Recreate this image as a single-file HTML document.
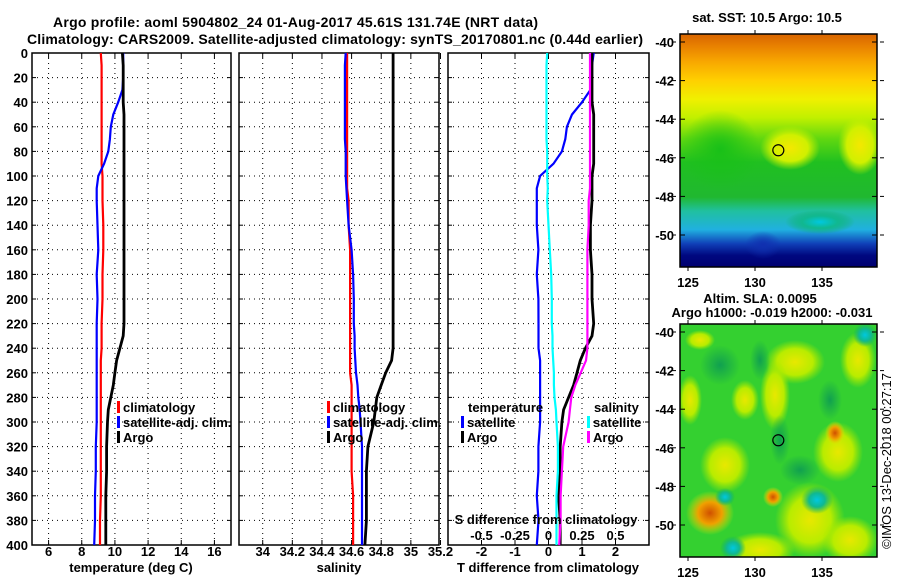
<!DOCTYPE html>
<html><head><meta charset="utf-8"><style>
html,body{margin:0;padding:0;background:#fff;}
svg{display:block;font-family:"Liberation Sans",Arial,sans-serif;font-weight:bold;}
</style></head><body>
<svg id="chart" width="900" height="580" viewBox="0 0 900 580" xmlns="http://www.w3.org/2000/svg">
<defs>
<linearGradient id="sstGrad" x1="0" y1="0" x2="0" y2="1">
<stop offset="0" stop-color="#d86400"/><stop offset="0.05" stop-color="#e88000"/><stop offset="0.12" stop-color="#f8a800"/>
<stop offset="0.2" stop-color="#ffd000"/><stop offset="0.28" stop-color="#f0f000"/><stop offset="0.36" stop-color="#c0f000"/>
<stop offset="0.45" stop-color="#60d810"/><stop offset="0.55" stop-color="#20c020"/><stop offset="0.7" stop-color="#20b830"/>
<stop offset="0.76" stop-color="#20c0a0"/><stop offset="0.84" stop-color="#20b0e0"/><stop offset="0.9" stop-color="#1040b8"/>
<stop offset="0.95" stop-color="#000880"/><stop offset="1" stop-color="#000070"/>
</linearGradient>
<radialGradient id="blobOrange"><stop offset="0" stop-color="#d05000"/><stop offset="0.5" stop-color="#f0a000"/><stop offset="1" stop-color="#e0e800" stop-opacity="0"/></radialGradient>
<radialGradient id="blobYellow"><stop offset="0" stop-color="#e8e800"/><stop offset="0.6" stop-color="#b8ec00"/><stop offset="1" stop-color="#a0e800" stop-opacity="0"/></radialGradient>
<radialGradient id="blobSstYellow"><stop offset="0" stop-color="#f4e800"/><stop offset="0.6" stop-color="#d0f000"/><stop offset="1" stop-color="#c0f000" stop-opacity="0"/></radialGradient>
<radialGradient id="blobBlue"><stop offset="0" stop-color="#00c8e0"/><stop offset="0.5" stop-color="#10b890"/><stop offset="1" stop-color="#10b060" stop-opacity="0"/></radialGradient>
<radialGradient id="blobDark"><stop offset="0" stop-color="#10a050"/><stop offset="1" stop-color="#10a050" stop-opacity="0"/></radialGradient>
<radialGradient id="blobGreen"><stop offset="0" stop-color="#18c018"/><stop offset="1" stop-color="#18c018" stop-opacity="0"/></radialGradient>
<radialGradient id="blobNavy"><stop offset="0" stop-color="#1030b0"/><stop offset="1" stop-color="#1030b0" stop-opacity="0"/></radialGradient>
<clipPath id="clipTop"><rect x="680" y="34" width="197" height="233"/></clipPath>
<clipPath id="clipBot"><rect x="680" y="324" width="197" height="233"/></clipPath>
</defs>
<text x="53" y="27" font-size="14" textLength="485">Argo profile: aoml 5904802_24 01-Aug-2017 45.61S 131.74E (NRT data)</text>
<text x="27" y="44" font-size="14" textLength="616">Climatology: CARS2009. Satellite-adjusted climatology: synTS_20170801.nc (0.44d earlier)</text>
<g id="panels"></g>
<g id="maps"></g>
</svg>
<script>
const depths=[0,10,20,30,40,50,60,70,80,90,100,110,120,140,160,180,200,220,230,240,250,260,270,280,290,300,320,340,360,380,400];
const tClim=[9.15,9.2,9.2,9.2,9.2,9.2,9.2,9.2,9.2,9.2,9.25,9.25,9.25,9.3,9.3,9.25,9.25,9.2,9.2,9.2,9.15,9.15,9.15,9.15,9.15,9.15,9.15,9.15,9.15,9.1,9.1];
const tSat=[10.5,10.5,10.5,10.45,10.2,9.9,9.75,9.7,9.6,9.35,9.0,8.9,8.9,8.95,9.0,8.9,8.95,8.9,8.9,8.9,8.9,8.9,8.9,8.9,8.9,8.9,8.85,8.85,8.8,8.8,8.75];
const tArgo=[10.45,10.5,10.5,10.5,10.5,10.55,10.55,10.55,10.55,10.55,10.55,10.55,10.55,10.55,10.55,10.55,10.55,10.55,10.5,10.3,10.1,10.0,9.9,9.75,9.6,9.55,9.5,9.5,9.45,9.45,9.45];
const sClim=[34.57,34.57,34.57,34.57,34.57,34.57,34.57,34.57,34.57,34.57,34.57,34.57,34.58,34.58,34.59,34.59,34.59,34.59,34.59,34.59,34.59,34.59,34.6,34.6,34.6,34.6,34.6,34.6,34.61,34.61,34.61];
const sSat=[34.56,34.555,34.555,34.555,34.555,34.555,34.555,34.555,34.56,34.56,34.56,34.565,34.57,34.58,34.6,34.61,34.615,34.615,34.62,34.62,34.625,34.63,34.64,34.645,34.655,34.66,34.67,34.67,34.67,34.67,34.67];
const sArgo=[34.88,34.88,34.88,34.88,34.88,34.88,34.88,34.88,34.88,34.88,34.88,34.88,34.88,34.88,34.88,34.88,34.88,34.88,34.88,34.88,34.87,34.83,34.8,34.77,34.76,34.75,34.71,34.7,34.7,34.7,34.69];
const depthTicks=[0,20,40,60,80,100,120,140,160,180,200,220,240,260,280,300,320,340,360,380,400];
const tTicks=[6,8,10,12,14,16];
const sTicks=[34,34.2,34.4,34.6,34.8,35,35.2];
const dTicks=[-2,-1,0,1,2];
const sdTicks=[-0.5,-0.25,0,0.25,0.5];
const sdLabels=["-0.5","-0.25","0","0.25","0.5"];
const latTicks=[-40,-42,-44,-46,-48,-50];
const lonTicks=[125,130,135];

const NS="http://www.w3.org/2000/svg";
function mk(tag,attrs,parent){const e=document.createElementNS(NS,tag);for(const k in attrs)e.setAttribute(k,attrs[k]);parent.appendChild(e);return e;}
const panelsG=document.getElementById('panels');
const Y0=53,Y1=545;
function yD(d){return Y0+(d/400)*(Y1-Y0);}
function makePanel(x0,x1,vmin,vmax,name){
  const g=mk('g',{},panelsG);
  
  
  const sx=v=>x0+(v-vmin)/(vmax-vmin)*(x1-x0);
  return {g,sx,x0,x1};
}
function frame(p,xt,labels,showY,labelY){
  const g=p.g;
  depthTicks.forEach(d=>{const y=yD(d);
    if(d>0&&d<400){const l=mk('line',{x1:p.x0,x2:p.x1,y1:y,y2:y,stroke:'#000','stroke-dasharray':'1,4','stroke-width':1},g);
    
    }
    mk('line',{x1:p.x0,x2:p.x0+4,y1:y,y2:y,stroke:'#000'},g);mk('line',{x1:p.x1,x2:p.x1-4,y1:y,y2:y,stroke:'#000'},g);
    if(showY){const t=mk('text',{x:28,y:y+5,'font-size':13,'text-anchor':'end'},g);t.textContent=d;
    
    }
  });
  xt.forEach((v,i)=>{const x=p.sx(v);
    const l=mk('line',{x1:x,x2:x,y1:Y0,y2:Y1,stroke:'#000','stroke-dasharray':'1,4'},g);
    
    
    mk('line',{x1:x,x2:x,y1:Y0,y2:Y0+5,stroke:'#000'},g);mk('line',{x1:x,x2:x,y1:Y1,y2:Y1-5,stroke:'#000'},g);
    if(labels){const t=mk('text',{x:x,y:labelY,'font-size':13,'text-anchor':'middle'},g);t.textContent=labels[i];
    
    }
  });
  const r=mk('rect',{x:p.x0,y:Y0,width:p.x1-p.x0,height:Y1-Y0,fill:'none',stroke:'#000','stroke-width':1.5},g);
  
  
}
function line(p,vals,color,name,w){
  const pts=vals.map((v,i)=>p.sx(v).toFixed(1)+','+yD(depths[i]).toFixed(1)).join(' ');
  const pl=mk('polyline',{points:pts,fill:'none',stroke:color,'stroke-width':w||2.2},p.g);
  
  
}
function txt(g,x,y,s,name,anchor,size){const t=mk('text',{x:x,y:y,'font-size':size||13,'text-anchor':anchor||'start'},g);t.textContent=s;
  
  return t;}
function legendEntry(g,x,y,color,label){
  const r=mk('rect',{x:x,y:y-11,width:3,height:12,fill:color},g);
  
  
  txt(g,x+6,y,label,'legend-entry');
}
const LY=556, TY=572;
// Panel 1 temperature
const p1=makePanel(32,231,5,17,'temperature-panel');
frame(p1,tTicks,tTicks.map(String),true,LY);
line(p1,tClim,'#ff0000','temperature-climatology-line');
line(p1,tSat,'#0000ff','temperature-satellite-line');
line(p1,tArgo,'#000000','temperature-argo-line',2.8);
txt(p1.g,131,TY,'temperature (deg C)','x-axis-title','middle');
legendEntry(p1.g,117,412,'#ff0000','climatology');
legendEntry(p1.g,117,427,'#0000ff','satellite-adj. clim.');
legendEntry(p1.g,117,442,'#000000','Argo');
// Panel 2 salinity
const p2=makePanel(239,439,33.84,35.19,'salinity-panel');
frame(p2,sTicks,sTicks.map(String),false,LY);
line(p2,sClim,'#ff0000','salinity-climatology-line');
line(p2,sSat,'#0000ff','salinity-satellite-line');
line(p2,sArgo,'#000000','salinity-argo-line',2.8);
txt(p2.g,339,TY,'salinity','x-axis-title','middle');
legendEntry(p2.g,327,412,'#ff0000','climatology');
legendEntry(p2.g,327,427,'#0000ff','satellite-adj. clim.');
legendEntry(p2.g,327,442,'#000000','Argo');
// Panel 3 differences
const p3=makePanel(448,649,-3,3,'difference-panel');
frame(p3,dTicks,dTicks.map(String),false,LY);
const sScale=v=>v*4; // S diff axis: 0.25 per T unit
line(p3,tSat.map((v,i)=>v-tClim[i]),'#0000ff','t-diff-satellite-line');
line(p3,tArgo.map((v,i)=>v-tClim[i]),'#000000','t-diff-argo-line',2.8);
line(p3,sSat.map((v,i)=>sScale(v-sClim[i])),'#00ffff','s-diff-satellite-line');
line(p3,sArgo.map((v,i)=>sScale(v-sClim[i])),'#ff00ff','s-diff-argo-line');
txt(p3.g,548,TY,'T difference from climatology','x-axis-title','middle');
txt(p3.g,546,524,'S difference from climatology','s-axis-title','middle');
sdTicks.forEach((v,i)=>txt(p3.g,p3.sx(sScale(v)),540,sdLabels[i],'s-tick-label','middle'));
txt(p3.g,468,412,'temperature','legend-title');
legendEntry(p3.g,461,427,'#0000ff','satellite');
legendEntry(p3.g,461,442,'#000000','Argo');
txt(p3.g,594,412,'salinity','legend-title');
legendEntry(p3.g,587,427,'#00ffff','satellite');
legendEntry(p3.g,587,442,'#ff00ff','Argo');

// Maps
const mapsG=document.getElementById('maps');
function mapAxes(g,y0,y1,latTop){
  const sy=lat=>latTop+(-40-lat)*19.3;
  const sx=lon=>688+(lon-125)*13.4;
  latTicks.forEach(l=>{const y=sy(l);mk('line',{x1:680,x2:685,y1:y,y2:y,stroke:'#000'},g);mk('line',{x1:877,x2:872,y1:y,y2:y,stroke:'#000'},g);
    mk('line',{x1:672,x2:676,y1:y,y2:y,stroke:'#000'},g);mk('line',{x1:880,x2:884,y1:y,y2:y,stroke:'#000'},g);
    txt(g,674,y+5,String(l),'latitude-tick-label','end',13);});
  lonTicks.forEach(l=>{const x=sx(l);mk('line',{x1:x,x2:x,y1:y1,y2:y1+4,stroke:'#000'},g);mk('line',{x1:x,x2:x,y1:y0-4,y2:y0,stroke:'#000'},g);
    txt(g,x,y1+20,String(l),'longitude-tick-label','middle',13);});
  const r=mk('rect',{x:680,y:y0,width:197,height:y1-y0,fill:'none',stroke:'#000','stroke-width':1.5},g);
  
  
  const c=mk('circle',{cx:sx(131.74),cy:sy(-45.61),r:5.5,fill:'none',stroke:'#000','stroke-width':1.2},g);
  
  
}
const mt=mk('g',{},mapsG);


const ct=mk('g',{'clip-path':'url(#clipTop)'},mt);
mk('rect',{x:680,y:34,width:197,height:233,fill:'url(#sstGrad)'},ct);
mk('ellipse',{cx:720,cy:150,rx:40,ry:40,fill:'url(#blobGreen)'},ct);
mk('ellipse',{cx:790,cy:148,rx:30,ry:22,fill:'url(#blobSstYellow)'},ct);
mk('ellipse',{cx:860,cy:145,rx:22,ry:30,fill:'url(#blobSstYellow)'},ct);
mk('ellipse',{cx:820,cy:222,rx:35,ry:12,fill:'url(#blobBlue)'},ct);
mk('ellipse',{cx:763,cy:245,rx:18,ry:14,fill:'url(#blobNavy)'},ct);
txt(mt,767,22,'sat. SST: 10.5 Argo: 10.5','sst-map-title','middle',13);
mapAxes(mt,34,267,42);

const mb=mk('g',{},mapsG);


const cb=mk('g',{'clip-path':'url(#clipBot)'},mb);
mk('rect',{x:680,y:324,width:197,height:233,fill:'#34d030'},cb);
[[795,362,30,22],[775,395,15,35],[838,452,25,30],[810,520,35,38],[760,550,35,18],[850,540,28,24],[725,465,25,28],[690,400,12,25],[858,360,18,28],[745,400,14,20],[700,340,15,10]].forEach(b=>mk('ellipse',{cx:b[0],cy:b[1],rx:b[2],ry:b[3],fill:'url(#blobYellow)'},cb));
[[710,513,24,22],[773,497,10,10],[835,433,10,12]].forEach(b=>mk('ellipse',{cx:b[0],cy:b[1],rx:b[2],ry:b[3],fill:'url(#blobOrange)'},cb));
[[817,500,16,14],[733,548,13,12],[725,497,10,9],[865,335,12,12]].forEach(b=>mk('ellipse',{cx:b[0],cy:b[1],rx:b[2],ry:b[3],fill:'url(#blobBlue)'},cb));
[[720,365,20,20],[780,440,10,25],[830,400,12,20],[760,360,10,20],[800,470,20,15]].forEach(b=>mk('ellipse',{cx:b[0],cy:b[1],rx:b[2],ry:b[3],fill:'url(#blobDark)'},cb));
txt(mb,760,303,'Altim. SLA: 0.0095','sla-title-line-1','middle',13);
txt(mb,772,317,'Argo h1000: -0.019 h2000: -0.031','sla-title-line-2','middle',13);
mapAxes(mb,324,557,332);
const ts=txt(mb,0,0,'©IMOS 13-Dec-2018 00:27:17','timestamp','middle',13);
ts.setAttribute('font-weight','normal');
ts.setAttribute('transform','translate(891,461) rotate(-90)');
</script>
</body></html>
